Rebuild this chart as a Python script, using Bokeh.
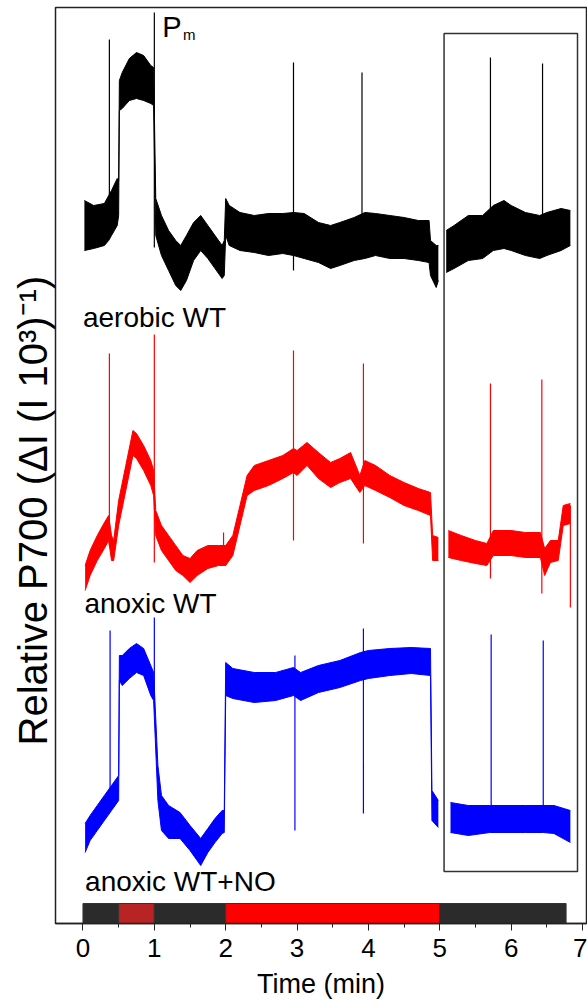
import math
from bokeh.plotting import figure
from bokeh.models import FixedTicker, Title, ColumnDataSource
from bokeh.core.properties import value
from bokeh.embed import file_html
from bokeh.resources import INLINE

nan = float("nan")

# ---------------- data (time in min, relative P700 signal in arbitrary units) ----------------
aerobic_t = [0.02, 0.15, 0.30, 0.36, 0.40, 0.48, 0.50, 0.51, 0.55, 0.65, 0.75, 0.85, 0.95, 0.99,
             1.02, 1.10, 1.20, 1.30, 1.37, 1.45, 1.55, 1.65, 1.75, 1.85, 1.95, 1.98,
             2.00, 2.05, 2.20, 2.40, 2.60, 2.80, 2.95, 3.10, 3.30, 3.47, 3.60, 3.80, 3.95,
             4.10, 4.30, 4.50, 4.70, 4.85, 4.87, 4.95, 4.98, nan,
             5.09, 5.20, 5.40, 5.60, 5.75, 5.90, 6.00, 6.20, 6.40, 6.50, 6.70, 6.83]
aerobic_lo = [673, 675, 678, 683, 688, 698, 708, 813, 815, 823, 825, 823, 820, 818,
              688, 668, 653, 638, 633, 643, 663, 673, 665, 655, 645, 648,
              688, 678, 673, 671, 668, 670, 668, 665, 661, 655, 658, 663, 665,
              668, 665, 665, 663, 661, 648, 636, 643, nan,
              651, 655, 663, 665, 673, 675, 673, 668, 665, 668, 673, 678]
aerobic_hi = [723, 718, 720, 728, 733, 745, 743, 843, 851, 865, 871, 868, 858, 856,
              725, 708, 693, 683, 678, 688, 701, 708, 698, 688, 678, 683,
              725, 718, 711, 708, 710, 710, 711, 710, 701, 698, 701, 706, 711,
              710, 708, 706, 703, 703, 683, 678, 678, nan,
              693, 698, 708, 708, 718, 723, 718, 711, 708, 711, 715, 713]
aerobic_spike_t = [0.37, 1.00, 2.95, 3.91, 5.71, 6.44]
aerobic_spike_lo = [703, 676, 653, 668, 693, 688]
aerobic_spike_hi = [884, 911, 861, 851, 866, 860]

anoxic_t = [0.03, 0.10, 0.20, 0.30, 0.36, 0.40, 0.43, 0.50, 0.60, 0.70, 0.75, 0.85, 0.95, 0.99,
            1.02, 1.10, 1.20, 1.30, 1.40, 1.50, 1.60, 1.75, 1.90, 2.00, 2.10, 2.20, 2.30,
            2.40, 2.60, 2.80, 2.95, 3.00, 3.14, 3.30, 3.47, 3.60, 3.75, 3.88, 3.95,
            4.10, 4.30, 4.50, 4.70, 4.87, 4.90, 4.98, nan,
            5.12, 5.30, 5.50, 5.66, 5.75, 6.00, 6.20, 6.41, 6.47, 6.55, 6.66, 6.73, 6.83]
anoxic_lo = [333, 348, 363, 375, 383, 363, 363, 398, 433, 468, 465, 453, 438, 428,
             388, 373, 363, 353, 348, 341, 348, 355, 358, 358, 368, 398, 428,
             433, 438, 445, 451, 448, 458, 445, 436, 441, 445, 431, 438,
             433, 426, 418, 413, 408, 363, 363, nan,
             366, 363, 360, 358, 368, 368, 366, 366, 348, 361, 363, 398, 400]
anoxic_hi = [358, 373, 388, 401, 408, 388, 383, 423, 458, 493, 490, 478, 463, 453,
             413, 398, 388, 378, 368, 365, 373, 378, 378, 378, 388, 418, 448,
             458, 463, 468, 475, 473, 481, 471, 461, 465, 471, 448, 463,
             458, 448, 441, 435, 431, 388, 386, nan,
             393, 388, 383, 380, 393, 393, 391, 391, 375, 383, 383, 418, 420]
anoxic_spike_t = [0.37, 1.00, 1.97, 2.95, 3.93, 5.71, 6.43, 6.83]
anoxic_spike_lo = [378, 361, 363, 383, 380, 345, 330, 316]
anoxic_spike_hi = [570, 589, 391, 573, 560, 540, 544, 418]

no_t = [0.03, 0.10, 0.20, 0.30, 0.40, 0.50, 0.51, 0.55, 0.65, 0.75, 0.85, 0.95, 0.99,
        1.05, 1.10, 1.20, 1.36, 1.50, 1.65, 1.75, 1.85, 1.95, 1.98,
        2.00, 2.10, 2.40, 2.70, 2.95, 3.05, 3.30, 3.60, 3.89, 4.00, 4.30, 4.60, 4.87,
        4.89, 4.98, nan,
        5.15, 5.40, 5.70, 5.90, 6.20, 6.45, 6.60, 6.83]
no_lo = [71, 83, 93, 103, 113, 123, 243, 238, 245, 251, 248, 228, 223,
         123, 93, 85, 85, 73, 58, 71, 81, 90, 91,
         228, 225, 221, 223, 228, 223, 231, 236, 243, 245, 248, 250, 248,
         103, 96, nan,
         91, 88, 91, 91, 91, 91, 90, 81]
no_hi = [100, 108, 118, 128, 138, 148, 268, 268, 275, 280, 275, 258, 251,
         158, 128, 118, 111, 98, 85, 95, 105, 113, 113,
         261, 255, 251, 251, 256, 251, 258, 263, 271, 273, 275, 276, 275,
         133, 123, nan,
         121, 118, 118, 118, 118, 118, 118, 113]
no_spike_t = [0.38, 1.00, 2.97, 3.93, 5.72, 6.45]
no_spike_lo = [123, 223, 93, 110, 105, 105]
no_spike_hi = [293, 306, 268, 295, 289, 283]

light_edges = [0, 0.5, 1, 2, 5, 6.77]
light_colors = ["#2b2b2b", "#b82323", "#2b2b2b", "#ff0000", "#2b2b2b"]
light_bar_height = 20

inset_box = dict(left=5.06, right=6.93, bottom=52, top=890)

x_ticks = [0, 1, 2, 3, 4, 5, 6, 7]
x_minor = [0.5, 1.5, 2.5, 3.5, 4.5, 5.5, 6.5]

trace_labels = ["aerobic WT", "anoxic WT", "anoxic WT+NO"]
label_x = [0.0, 0.02, 0.03]
label_y = [606, 320, 42]

FONT = "Liberation Sans"

# ---------------- figure ----------------
p = figure(width=587, height=1004, x_range=(-0.385, 7.056), y_range=(0, 916),
           output_backend="svg", toolbar_location=None,
           min_border_left=55, min_border_right=1, min_border_top=7, min_border_bottom=81)
p.grid.visible = False
p.outline_line_color = "#222222"
p.outline_line_width = 1.5
p.background_fill_color = "white"
p.border_fill_color = "white"
p.yaxis.visible = False

xa = p.xaxis[0]
xa.ticker = FixedTicker(ticks=x_ticks, minor_ticks=x_minor)
xa.axis_line_color = "#222222"
xa.axis_line_width = 1.5
xa.major_tick_in = 0
xa.major_tick_out = 7
xa.minor_tick_in = 0
xa.minor_tick_out = 4
xa.major_tick_line_color = "#222222"
xa.minor_tick_line_color = "#222222"
xa.major_label_text_font = FONT
xa.major_label_text_font_size = "26px"
xa.major_label_text_color = "black"
xa.major_label_standoff = 8
xa.axis_label = "Time (min)"
xa.axis_label_text_font = FONT
xa.axis_label_text_font_size = "27px"
xa.axis_label_text_font_style = "normal"
xa.axis_label_text_color = "black"
xa.axis_label_standoff = 9


def runs(t, lo, hi):
    out, cur = [], ([], [], [])
    for a, b, c in zip(t, lo, hi):
        if isinstance(a, float) and math.isnan(a):
            if cur[0]:
                out.append(cur)
            cur = ([], [], [])
        else:
            cur[0].append(a); cur[1].append(b); cur[2].append(c)
    if cur[0]:
        out.append(cur)
    return out


series = [
    (aerobic_t, aerobic_lo, aerobic_hi, aerobic_spike_t, aerobic_spike_lo, aerobic_spike_hi, "#000000"),
    (anoxic_t, anoxic_lo, anoxic_hi, anoxic_spike_t, anoxic_spike_lo, anoxic_spike_hi, "#ff0000"),
    (no_t, no_lo, no_hi, no_spike_t, no_spike_lo, no_spike_hi, "#0000ff"),
]
for t, lo, hi, st, slo, shi, col in series:
    for rt, rlo, rhi in runs(t, lo, hi):
        p.varea(x=rt, y1=rlo, y2=rhi, fill_color=col)
        p.line(x=rt, y=rlo, line_color=col, line_width=1)
        p.line(x=rt, y=rhi, line_color=col, line_width=1)
    p.segment(x0=st, y0=slo, x1=st, y1=shi, line_color=col, line_width=1.2)

# light protocol bar
p.quad(left=light_edges[:-1], right=light_edges[1:], bottom=[0] * len(light_colors),
       top=[light_bar_height] * len(light_colors), fill_color=light_colors,
       line_color="#333333", line_width=1)

# inset box
p.quad(left=[inset_box["left"]], right=[inset_box["right"]], bottom=[inset_box["bottom"]],
       top=[inset_box["top"]], fill_color=None, line_color="#333333", line_width=1.5)

# labels
src = ColumnDataSource(dict(x=label_x, y=label_y, text=trace_labels))
p.text(x="x", y="y", text="text", source=src, text_font=value(FONT), text_font_size="28px",
       text_color="black", text_baseline="alphabetic", text_align="left")
p.text(x=[1.11], y=[897], text=["P"], text_font=value(FONT), text_font_size="29px",
       text_color="black", text_baseline="alphabetic", text_align="left")
p.text(x=[1.40], y=[889], text=["m"], text_font=value(FONT), text_font_size="15px",
       text_color="black", text_baseline="alphabetic", text_align="left")

ytitle = Title(text="Relative P700 (\u0394I (I 10\u00b3)\u207b\u00b9)", align="left", offset=178,
               vertical_align="middle", text_font=FONT, text_font_size="40px",
               text_font_style="normal", text_color="black", standoff=0)
p.add_layout(ytitle, "left")

open("out.html", "w").write(file_html(p, INLINE))
